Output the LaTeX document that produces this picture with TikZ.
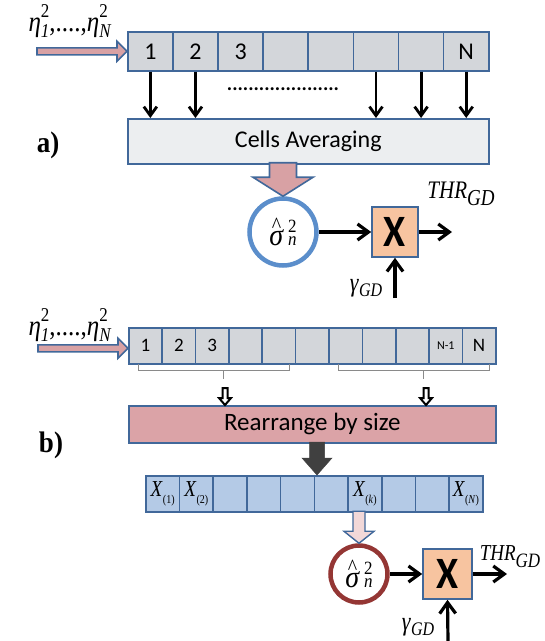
\documentclass[tikz,border=0pt]{standalone}
\usepackage{graphicx}
\usepackage{fontspec}
\setmainfont{Liberation Serif}
\newfontfamily\sans{Carlito}
\usetikzlibrary{arrows.meta,calc}

\definecolor{edge}{HTML}{41689A}
\definecolor{cellgray}{HTML}{D3D6DA}
\definecolor{avgfill}{HTML}{ECEEF0}
\definecolor{pinkarrow}{HTML}{D8A1A4}
\definecolor{ringblue}{HTML}{5B8ECB}
\definecolor{peach}{HTML}{F7C4A0}
\definecolor{rosefill}{HTML}{DBA3A7}
\definecolor{sortblue}{HTML}{B4CAE6}
\definecolor{palepink}{HTML}{F2D8D8}
\definecolor{arrowgray}{HTML}{404040}
\definecolor{ringred}{HTML}{943634}
\definecolor{brkgray}{HTML}{8A8A8A}

% serif formula text is set a little taller than wide
\newcommand\tall[2][1.2]{\scalebox{1}[#1]{#2}}
% squared noise sample: eta with stacked index and exponent
\newcommand\etasq[1]{\textit{η}\rlap{\raisebox{0.5em}{\fontsize{17}{17}\selectfont 2}}\raisebox{-0.22em}{\fontsize{17}{17}\selectfont\textit{#1}}}
% noise power estimate: sigma hat with exponent 2 and index n
\newcommand\sighat{%
  \fontsize{28}{28}\selectfont
  \setbox0\hbox{\textit{σ}}%
  \rlap{\hbox to \wd0{\hss\raisebox{12pt}{\fontsize{20}{20}\selectfont\textasciicircum}\hss}}%
  \box0\hspace{0.15em}%
  \rlap{\raisebox{0.42em}{\fontsize{17}{17}\selectfont 2}}%
  {\fontsize{17}{17}\selectfont\textit{n}}}
% ordered sample X_(i)
\newcommand\xo[1]{\tall{\textit{X}\raisebox{-0.3em}{\fontsize{10}{10}\selectfont(#1)}}}
% threshold and scale factor labels
\newcommand\thr[2]{\tall{\fontsize{#1}{#1}\selectfont\textit{THR}\raisebox{-0.3em}{\fontsize{#2}{#2}\selectfont\textit{GD}}}}
\newcommand\gam{\tall{\fontsize{22}{22}\selectfont\textit{γ}\raisebox{-0.2em}{\fontsize{16}{16}\selectfont\textit{GD}}}}

\begin{document}
\begin{tikzpicture}[x=1pt,y=-1pt,
  box/.style={draw=edge, line width=1.6pt, inner sep=0pt, anchor=north west},
  cellA/.style={box, fill=cellgray, minimum width=45.1pt, minimum height=39pt,
    font=\sans\fontsize{24}{24}\selectfont},
  cellB/.style={box, fill=cellgray, minimum width=33.36pt, minimum height=36pt,
    font=\sans\fontsize{19}{19}\selectfont},
  cellX/.style={box, fill=sortblue, minimum width=33.7pt, minimum height=36pt,
    font=\fontsize{19}{19}\selectfont},
  ring/.style={circle, line width=4.5pt, fill=white, inner sep=0pt},
  xbox/.style={draw=edge, fill=peach, line width=1.6pt, minimum height=50pt,
    inner sep=0pt, font=\sans\bfseries\fontsize{40}{40}\selectfont},
  fatA/.style={draw=edge, fill=pinkarrow, line width=1.6pt, line join=miter},
  blk/.style={line width=2.8pt, -{Straight Barb[length=9pt,width=13pt]}},
  blkR/.style={line width=3.2pt, -{Straight Barb[length=11pt,width=16pt]}},
  brk/.style={draw=brkgray, line width=1pt},
  smallA/.style={draw=black, fill=white, line width=2pt, line join=miter},
  tag/.style={font=\bfseries\fontsize{27}{27}\selectfont},
  ]
\useasboundingbox (0,0) rectangle (545,641);

% ---------------- a) cell averaging ----------------
\node (eta1) at (70,21) {\tall[1.15]{\fontsize{25}{25}\selectfont\etasq{1},....,\etasq{N}}};
\foreach \i/\t in {1/1,2/2,3/3,4/,5/,6/,7/,8/N}
  \node[cellA] (a\i) at ({127+(\i-1)*45.125},31) {\t};
\draw[fatA, shift={(a1.west)}] (-90,-3.5) -- (-10,-3.5) -- (-10,-10) -- (0,0)
  -- (-10,10) -- (-10,3.5) -- (-90,3.5) -- cycle;

\node[box, fill=avgfill, minimum width=361pt, minimum height=45pt,
  font=\sans\fontsize{24}{24}\selectfont] (avg) at (127,118) {Cells Averaging};
\foreach \i in {1,2,6,7,8}
  \draw[blk] (a\i.south) -- (a\i.south |- avg.north);
\node[font=\sans\bfseries\fontsize{20}{20}\selectfont] (dots1) at (283,89) {.....................};
\node[tag] (la) at (48,145) {\tall[1.1]{a)}};

\node[ring, draw=ringblue, minimum size=67pt] (c1) at (283,232) {\tall[1.1]{\sighat}};
\draw[fatA, shift={(c1.north)}] (0,0) -- (30,-19) -- (13.5,-19) -- (13.5,-33.5)
  -- (-13.5,-33.5) -- (-13.5,-19) -- (-30,-19) -- cycle;
\node[xbox, minimum width=46pt] (x1) at (395,232) {\tall[1.12]{X}};
\draw[blkR] (c1) -- (x1);
\coordinate (o1) at (452,232);
\draw[blkR] (x1) -- (o1);
\node (thr1) at (461,194) {\thr{21}{19}};
\node (g1) at (366,288) {\gam};
\coordinate (gin1) at (395,298);
\draw[blkR] (gin1) -- (x1.south);

% ---------------- b) ordered statistics ----------------
\node (eta2) at (70,325) {\tall[1.15]{\fontsize{25}{25}\selectfont\etasq{1},....,\etasq{N}}};
\foreach \i/\t in {1/1,2/2,3/3,4/,5/,6/,7/,8/,9/,10/{\fontsize{12}{12}\selectfont N-1},11/N}
  \node[cellB] (b\i) at ({128+(\i-1)*33.364},327) {\t};
\draw[fatA, shift={($(b1.west)+(0,2.5)$)}] (-90,-3.5) -- (-10,-3.5) -- (-10,-10) -- (0,0)
  -- (-10,10) -- (-10,3.5) -- (-90,3.5) -- cycle;

\draw[brk] (138,364) -- (138,370) -- (289,370) -- (289,364);
\draw[brk] (223,370) -- (223,379);
\draw[brk] (338,364) -- (338,370) -- (489,370) -- (489,364);
\draw[brk] (423,370) -- (423,379);

\node[box, fill=rosefill, minimum width=367pt, minimum height=37pt,
  font=\sans\fontsize{25}{25}\selectfont] (rb) at (128,405) {Rearrange by size};
\coordinate (t1) at (225,388);
\coordinate (t2) at (426,388);
\foreach \t in {t1,t2}
  \draw[smallA, shift={(\t |- rb.north)}] (0,0) -- (-6,-7) -- (-2.5,-7) -- (-2.5,-17)
    -- (2.5,-17) -- (2.5,-7) -- (6,-7) -- cycle;
\node[tag] (lb) at (51,445) {\tall[1.1]{b)}};

\foreach \i/\t in {1/\xo{1},2/\xo{2},3/,4/,5/,6/,7/\xo{\textit{k}},8/,9/,10/\xo{\textit{N}}}
  \node[cellX] (s\i) at ({145+(\i-1)*33.7},475) {\t};
\coordinate (d1) at (317,475);
\draw[draw=arrowgray, fill=arrowgray, line width=0.5pt, shift={(d1)}] (0,0) -- (-15,-17)
  -- (-7.5,-17) -- (-7.5,-33) -- (7.5,-33) -- (7.5,-17) -- (15,-17) -- cycle;

\node[ring, draw=ringred, minimum size=57pt] (c2) at (359,574) {\tall[1.1]{\sighat}};
\draw[draw=edge, fill=palepink, line width=1.4pt, line join=miter, shift={(c2.north)}]
  (0,0) -- (15,-12) -- (6,-12) -- (6,-32) -- (-6,-32) -- (-6,-12) -- (-15,-12) -- cycle;
\node[xbox, minimum width=49pt] (x2) at (447.5,574) {\tall[1.12]{X}};
\draw[blkR] (c2) -- (x2);
\coordinate (o2) at (507,574);
\draw[blkR] (x2) -- (o2);
\node (thr2) at (510,557) {\thr{19}{17}};
\node (g2) at (418,627) {\gam};
\coordinate (gin2) at (448,641);
\draw[blkR] (gin2) -- (x2.south);
\end{tikzpicture}
\end{document}
